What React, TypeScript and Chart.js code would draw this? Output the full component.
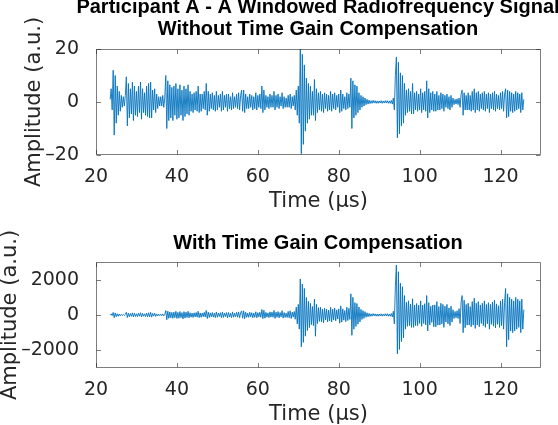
import React, { useEffect, useRef } from "react";
import { Chart, registerables } from "chart.js";

Chart.register(...registerables);

// Sampling of the windowed RF signal (time axis in microseconds)
const T0 = 23.5;
const DT = 0.25;

// Raw RF amplitude (a.u.), one sample every DT µs starting at T0
const rawSignal: number[] = [
  1, 5, -3, 12, -12.5, 10, -8, 6,
  -5, 4, -3.5, 2.5, -2, 2, -1.5, 2.5,
  9.5, -9, 7, -6, 5, -4.5, 7.5, -7,
  6, -5, 4, -5.5, 6, -4, 7.5, -6.5,
  5, -4, 3.5, -5, 6, -5.5, 7, -6,
  7.5, -6, 4.5, -3, 5, -4, 3, -2.5,
  2, -1.5, 2, -1.5, 2.5, -2, 1.5, 10,
  -10, 8, -7, 6.5, -6, 5.5, -7, 6,
  -5, 7, -6.5, 5, -6, 6.5, -5, 4.5,
  -7, 6, -5.5, 5, -4.5, 6.5, -5, 4,
  -3.5, 3, -4, 3.5, -3, 4, -3.5, 6,
  -4, 3, -3.5, 3, -2.5, 4, -3, 7,
  -5, 4, -3.5, 3, -2.5, 3.5, -3, 2.5,
  -3.5, 4, -3, 2.5, -2, 3, -3.5, 4,
  -3, 2.5, -2, 3, -3.5, 3, -2.5, 2,
  -3, 3.5, -2.5, 2, -2, 3, -2.5, 3.5,
  -3, 2.5, 4.5, -3.5, 4.5, -4, 3, -2.5,
  2, -2.5, 3, -2, 2.5, -3, 2, -2.5,
  3.5, -3, 2.5, -2, 3, -2.5, 6, -4,
  4.5, -3, 2.5, -2, 2, -2.5, 3, -2,
  2.5, -2, 4, -3, 2.5, -2, 3, -2.5,
  2, -1.5, 3.5, -2.5, 2, -2, 1.5, -2,
  2.5, -2, 3, -2.5, 2, -1.5, 2.5, -3,
  4.5, -5, 6, -8, 20, -19.5, 18, -16,
  14, -11, 9, -8, 7, -6.5, 6, -5,
  4, -5, 8.5, -7, 5, -4, 3.5, -3,
  4, -3.5, 3, -4, 3.5, -2.5, 3, -3.5,
  2.5, -3, 4, -3.5, 3, -2.5, 3.5, -3,
  2.5, -2, 3, -4, 4.5, -3.5, 3, -2.5,
  2, -3, 3.5, -2.5, 3, -2, 9, -10,
  8, -6, 6.5, -5, 6, -4, 3.5, -3,
  2.5, -2, 2, -1.5, 1.5, -1, 1, -0.8,
  0.7, -0.6, 0.5, -0.5, 0.6, -0.4, 0.5, -0.5,
  0.4, -0.5, 0.4, -0.4, 0.5, -0.5, 0.4, -0.4,
  0.5, -0.4, 0.5, -0.5, 0.4, -0.5, 0.6, -0.8,
  1.5, -3, 10, 17, -13.5, 15, -12, 11,
  -9, 10, -8, 7, -5, 4.5, -4, 5,
  -3.5, 4, -4.5, 7, -4.5, 3.5, -3, 4,
  -3.5, 3, -3, 5, -4, 3.5, -3, 4,
  -3.5, 8, -6, 5, -4, 3.5, -3, 4,
  -3.5, 3, -3.5, 4, -3, 2.5, -3, 3.5,
  -2.5, 3, -3.5, 2.5, -2, 3, -2.5, 2,
  -3, 2.5, -2, 1.5, -1, 1, -0.8, 1.2,
  -1, 1.5, -2, 3, 4.5, -5, 3.5, -3,
  2.5, -3, 3.5, -3, 2.5, -3.5, 4, -3,
  5, -4, 3.5, -3, 4, -3.5, 3, -2.5,
  3.5, -3, 4, -3.5, 3, -2.5, 3.5, -4,
  3, -2.5, 3.5, -3, 4, -3.5, 3, -2.5,
  2.5, -3, 3.5, -2.5, 4, -3.5, 3, 5,
  -6, 4.5, -5.5, 4, -3.5, 3.5, -4, 3,
  -3.5, 4, -3, 3.5, -2.5, 3, -4, 3.5,
  -3, 1,
];

// Same window after time gain compensation (a.u.)
const tgcSignal: number[] = [
  12, 60, -36, 144, -150, 120, -96, 72,
  -70, 56, -49, 35, -28, 28, -21, 35,
  152, -144, 112, -96, 80, -72, 120, -112,
  102, -85, 68, -94, 102, -68, 128, -110,
  90, -72, 63, -90, 108, -99, 126, -108,
  150, -120, 90, -60, 100, -80, 60, -50,
  48, -36, 48, -36, 60, -48, 36, 250,
  -270, 216, -189, 175, -162, 148, -189, 162,
  -150, 210, -195, 150, -180, 195, -150, 135,
  -224, 192, -176, 160, -144, 208, -160, 128,
  -122, 105, -140, 122, -105, 140, -122, 210,
  -148, 111, -130, 111, -92, 148, -111, 259,
  -200, 160, -140, 120, -100, 140, -120, 100,
  -150, 172, -129, 108, -86, 129, -150, 172,
  -138, 115, -92, 138, -161, 138, -115, 92,
  -150, 175, -125, 100, -100, 150, -125, 175,
  -156, 130, 234, -182, 234, -208, 156, -130,
  104, -130, 156, -104, 130, -156, 104, -130,
  182, -156, 130, -104, 156, -130, 312, -208,
  270, -180, 150, -120, 120, -150, 180, -120,
  162, -130, 260, -195, 162, -130, 195, -162,
  140, -105, 245, -175, 140, -140, 105, -140,
  200, -160, 240, -200, 160, -120, 200, -240,
  450, -500, 600, -800, 2040, -1800, 1750, -1550,
  1500, -1200, 990, -880, 770, -715, 660, -550,
  480, -600, 900, -1200, 600, -480, 420, -360,
  440, -385, 330, -440, 385, -275, 330, -385,
  275, -330, 440, -385, 330, -275, 385, -330,
  290, -230, 345, -460, 520, -400, 345, -290,
  250, -375, 440, -310, 375, -250, 1200, -1150,
  1000, -800, 700, -650, 650, -520, 450, -390,
  320, -250, 250, -190, 190, -125, 125, -100,
  90, -78, 65, -65, 78, -52, 65, -65,
  54, -68, 54, -54, 68, -68, 54, -54,
  70, -56, 70, -70, 56, -70, 84, -112,
  210, -500, 1650, 2830, -2200, 2450, -1950, 1800,
  -1500, 1600, -1300, 1100, -800, 720, -640, 800,
  -600, 620, -700, 920, -700, 560, -600, 650,
  -600, 560, -480, 800, -640, 560, -480, 640,
  -560, 1100, -900, 700, -560, 490, -420, 560,
  -665, 570, -665, 760, -570, 475, -570, 665,
  -500, 600, -700, 500, -400, 600, -500, 400,
  -600, 500, -400, 300, -200, 200, -160, 240,
  -200, 360, -480, 720, 1100, -1000, 840, -720,
  600, -570, 665, -570, 475, -665, 760, -570,
  950, -760, 665, -570, 760, -665, 570, -475,
  665, -600, 800, -700, 600, -500, 700, -800,
  600, -525, 735, -630, 840, -735, 630, -525,
  525, -700, 800, -600, 900, -800, 700, 1500,
  -1800, 1200, -1400, 1000, -900, 900, -1000, 800,
  -900, 1000, -800, 900, -700, 800, -1000, 900,
  -800, 300,
];

const xTicks: number[] = [20, 40, 60, 80, 100, 120];
const xRange: number[] = [20, 130];
const rawYTicks: number[] = [-20, 0, 20];
const rawYRange: number[] = [-20, 20];
const tgcYTicks: number[] = [-2000, 0, 2000];
const tgcYRange: number[] = [-3000, 3000];

const topTitle: string[] = [
  "Participant A - A Windowed Radiofrequency Signal",
  "Without Time Gain Compensation",
];
const bottomTitle = "With Time Gain Compensation";
const xLabel = "Time (\u03bcs)";
const yLabel = "Amplitude (a.u.)";

const LINE = "rgb(0,114,189)";
const AXIS = "#262626";
const CANVAS_W = 636;

const fmt = (v: number | string) => {
  const n = Number(v);
  return n < 0 ? "\u2013" + Math.abs(n) : String(n);
};

const boxPlugin = {
  id: "matlabBox",
  afterDatasetsDraw(chart: any) {
    const { ctx, chartArea: a, scales } = chart;
    const L = Math.round(a.left) + 0.5;
    const R = Math.round(a.right) - 0.5;
    const T = Math.round(a.top) + 0.5;
    const B = Math.round(a.bottom) - 0.5;
    const len = 4.5;
    ctx.save();
    ctx.strokeStyle = "rgba(38,38,38,0.6)";
    ctx.lineWidth = 1;
    ctx.beginPath();
    ctx.rect(L, T, R - L, B - T);
    scales.x.ticks.forEach((t: any) => {
      const px = Math.round(scales.x.getPixelForValue(t.value)) + 0.5;
      ctx.moveTo(px, B);
      ctx.lineTo(px, B - len);
      ctx.moveTo(px, T);
      ctx.lineTo(px, T + len);
    });
    scales.y.ticks.forEach((t: any) => {
      const py = Math.round(scales.y.getPixelForValue(t.value)) + 0.5;
      ctx.moveTo(L, py);
      ctx.lineTo(L + len, py);
      ctx.moveTo(R, py);
      ctx.lineTo(R - len, py);
    });
    ctx.stroke();
    ctx.restore();
  },
};

type PanelProps = {
  values: number[];
  yRange: number[];
  yTicks: number[];
  title: string | string[];
  titlePad: { top: number; bottom: number };
  yTitlePad: number;
  top: number;
  height: number;
};

function Panel(p: PanelProps) {
  const ref = useRef<HTMLCanvasElement>(null);
  useEffect(() => {
    const data = p.values.map((v, i) => ({ x: T0 + i * DT, y: v }));
    const chart = new Chart(ref.current as HTMLCanvasElement, {
      type: "line",
      data: {
        datasets: [
          {
            data,
            borderColor: LINE,
            borderWidth: 0.9,
            pointRadius: 0,
            tension: 0,
            fill: false,
          },
        ],
      },
      options: {
        animation: false,
        responsive: false,
        devicePixelRatio: 1,
        layout: { padding: { left: 0, right: 0, top: 0, bottom: 0 } },
        plugins: {
          legend: { display: false },
          tooltip: { enabled: false },
          title: {
            display: true,
            text: p.title,
            color: "#000",
            font: { family: "'Liberation Sans', Arial, sans-serif", size: 20, weight: "bold", lineHeight: 1.1 },
            padding: p.titlePad,
          },
        },
        scales: {
          x: {
            type: "linear",
            min: xRange[0],
            max: xRange[1],
            afterBuildTicks: (s: any) => {
              s.ticks = xTicks.map((v) => ({ value: v }));
            },
            afterFit: (s: any) => {
              s.height = 62;
            },
            grid: { display: false },
            border: { display: false },
            ticks: {
              color: AXIS,
              font: { family: "'DejaVu Sans', sans-serif", size: 19, lineHeight: 1.2 },
              padding: 3,
              maxRotation: 0,
              autoSkip: false,
              callback: (v: any) => fmt(v),
            },
            title: {
              display: true,
              text: xLabel,
              color: AXIS,
              font: { family: "'DejaVu Sans', sans-serif", size: 21, lineHeight: 1.2 },
              padding: { top: 4, bottom: 3 },
            },
          },
          y: {
            type: "linear",
            min: p.yRange[0],
            max: p.yRange[1],
            afterBuildTicks: (s: any) => {
              s.ticks = p.yTicks.map((v) => ({ value: v }));
            },
            afterFit: (s: any) => {
              s.width = 96;
            },
            grid: { display: false },
            border: { display: false },
            ticks: {
              color: AXIS,
              font: { family: "'DejaVu Sans', sans-serif", size: 19, lineHeight: 1.2 },
              padding: 9,
              autoSkip: false,
              callback: (v: any) => fmt(v),
            },
            title: {
              display: true,
              text: yLabel,
              color: AXIS,
              font: { family: "'DejaVu Sans', sans-serif", size: 21, lineHeight: 1.2 },
              padding: { top: p.yTitlePad, bottom: 0 },
            },
          },
          yRight: {
            type: "linear",
            position: "right",
            afterFit: (s: any) => {
              s.width = CANVAS_W - 541;
            },
            grid: { display: false },
            border: { display: false },
            ticks: { display: false },
            title: { display: false },
          },
        },
      } as any,
      plugins: [boxPlugin],
    });
    return () => chart.destroy();
  }, []);
  return (
    <canvas
      ref={ref}
      width={CANVAS_W}
      height={p.height}
      style={{ position: "absolute", left: 0, top: p.top, width: CANVAS_W, height: p.height }}
    />
  );
}

export default function App() {
  return (
    <div
      style={{
        position: "fixed",
        left: 0,
        top: 0,
        width: 558,
        height: 425,
        overflow: "hidden",
        background: "#fff",
      }}
    >
      <Panel
        values={rawSignal}
        yRange={rawYRange}
        yTicks={rawYTicks}
        title={topTitle}
        titlePad={{ top: -4, bottom: 9 }}
        yTitlePad={22}
        top={0}
        height={217}
      />
      <Panel
        values={tgcSignal}
        yRange={tgcYRange}
        yTicks={tgcYTicks}
        title={bottomTitle}
        titlePad={{ top: 10, bottom: 8 }}
        yTitlePad={-2}
        top={222}
        height={208}
      />
    </div>
  );
}
